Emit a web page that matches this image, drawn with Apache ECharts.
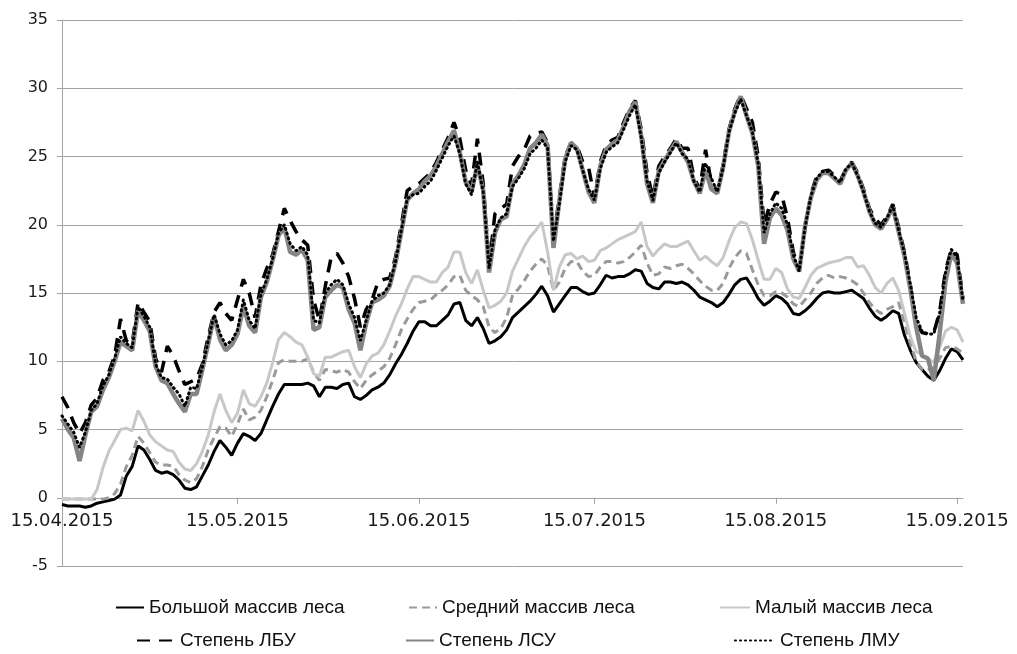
<!DOCTYPE html>
<html>
<head>
<meta charset="utf-8">
<script src="https://cdn.jsdelivr.net/npm/echarts@6/dist/echarts.min.js"></script>
<style>
  html, body { margin: 0; padding: 0; background: #fff; }
  #chart { width: 1017px; height: 654px; }
</style>
</head>
<body>
<div id="chart"></div>
<script>
// daily values, 15.04.2015 .. 16.09.2015
const startDate = new Date(2015, 3, 15);
const dayCount = 155;
const tickLabels = ["15.04.2015", "15.05.2015", "15.06.2015", "15.07.2015", "15.08.2015", "15.09.2015"];

const bigForest = [
  -0.5, -0.6, -0.6, -0.6, -0.7, -0.6, -0.4, -0.3, -0.2, -0.1,
  0.2, 1.6, 2.3, 3.8, 3.5, 2.8, 2.0, 1.8, 1.9, 1.7,
  1.3, 0.7, 0.6, 0.8, 1.6, 2.4, 3.4, 4.2, 3.7, 3.1,
  4.0, 4.7, 4.5, 4.2, 4.7, 5.7, 6.7, 7.6, 8.3, 8.3,
  8.3, 8.3, 8.4, 8.2, 7.4, 8.1, 8.1, 8.0, 8.3, 8.4,
  7.4, 7.2, 7.5, 7.9, 8.1, 8.4, 9.0, 9.8, 10.5, 11.3,
  12.2, 12.9, 12.9, 12.6, 12.6, 13.0, 13.4, 14.2, 14.3, 13.0,
  12.6, 13.2, 12.4, 11.3, 11.5, 11.8, 12.3, 13.2, 13.6, 14.0,
  14.4, 14.9, 15.5, 14.8, 13.6, 14.2, 14.8, 15.4, 15.4, 15.1,
  14.9, 15.0, 15.6, 16.3, 16.1, 16.2, 16.2, 16.4, 16.7, 16.6,
  15.7, 15.4, 15.3, 15.8, 15.8, 15.7, 15.8, 15.6, 15.2, 14.7,
  14.5, 14.3, 14.0, 14.3, 14.9, 15.6, 16.0, 16.1, 15.4, 14.6,
  14.1, 14.4, 14.8, 14.6, 14.2, 13.5, 13.4, 13.7, 14.1, 14.6,
  15.0, 15.1, 15.0, 15.0, 15.1, 15.2, 14.9, 14.6, 13.9, 13.3,
  13.0, 13.3, 13.7, 13.5, 11.9, 10.8, 9.9, 9.4, 8.9, 8.6,
  9.3, 10.2, 10.9, 10.7, 10.1
];

const midForest = [
  -0.1, -0.1, -0.1, -0.1, -0.1, -0.1, -0.1, -0.1, 0.0, 0.3,
  1.0, 2.3, 3.1, 4.5, 4.0, 3.3, 2.6, 2.4, 2.4, 2.3,
  1.7, 1.3, 1.1, 1.4, 2.3, 3.5, 4.4, 5.2, 5.1, 4.5,
  5.4, 6.5, 5.7, 5.9, 6.4, 7.4, 8.6, 9.9, 10.1, 10.0,
  10.0, 10.0, 10.2, 9.2, 8.6, 9.4, 9.3, 9.2, 9.4, 9.2,
  8.5, 8.0, 8.6, 9.0, 9.3, 9.6, 10.2, 11.2, 12.3, 13.1,
  13.8, 14.3, 14.4, 14.5, 14.9, 15.2, 15.6, 16.2, 16.3, 15.2,
  14.8, 14.5, 14.0, 12.5, 12.1, 12.4, 13.2, 14.8, 15.3, 15.9,
  16.6, 17.1, 17.5, 17.0, 15.2, 15.8, 16.8, 17.3, 17.3, 16.6,
  16.2, 16.3, 16.9, 17.3, 17.3, 17.2, 17.3, 17.6, 18.0, 18.5,
  17.2, 16.3, 16.4, 16.9, 16.8, 17.0, 17.1, 16.8, 16.4, 15.9,
  15.5, 15.2, 15.2, 15.7, 16.8, 17.6, 18.1, 17.9, 16.7, 15.6,
  14.8, 14.8, 15.1, 15.0, 14.7, 14.2, 14.0, 14.5, 15.0, 15.7,
  16.1, 16.3, 16.1, 16.2, 16.1, 15.9, 15.6, 15.0, 14.3, 13.8,
  13.5, 13.8, 14.0, 14.3, 12.8, 11.3, 10.0, 9.4, 9.4, 9.5,
  10.2, 11.0, 11.1, 10.9, 10.6
];

const smallForest = [
  -0.1, -0.1, -0.1, -0.1, -0.1, -0.1, 0.6, 2.2, 3.4, 4.2,
  5.0, 5.1, 4.9, 6.4, 5.6, 4.6, 4.1, 3.8, 3.5, 3.4,
  2.6, 2.1, 2.0, 2.5, 3.4, 4.6, 6.3, 7.6, 6.4, 5.5,
  6.2, 7.9, 6.9, 6.7, 7.4, 8.4, 9.9, 11.6, 12.1, 11.8,
  11.4, 11.2, 10.3, 9.1, 8.9, 10.3, 10.3, 10.5, 10.7, 10.8,
  9.6, 8.8, 9.8, 10.4, 10.6, 11.2, 12.2, 13.3, 14.2, 15.3,
  16.2, 16.2, 16.0, 15.8, 15.8, 16.5, 16.9, 18.0, 18.0, 16.5,
  15.7, 16.7, 15.2, 13.9, 14.1, 14.4, 15.0, 16.6, 17.5, 18.4,
  19.1, 19.6, 20.2, 18.0, 15.2, 16.9, 17.8, 17.9, 17.5, 17.7,
  17.3, 17.4, 18.1, 18.3, 18.6, 18.9, 19.1, 19.3, 19.5, 20.2,
  18.4, 17.7, 18.2, 18.6, 18.4, 18.4, 18.6, 18.8, 18.1, 17.4,
  17.7, 17.3, 17.0, 17.6, 18.8, 19.8, 20.2, 20.1, 18.9, 17.4,
  16.0, 16.0, 16.8, 16.5, 15.3, 14.7, 14.6, 15.4, 16.3, 16.8,
  17.0, 17.2, 17.3, 17.4, 17.6, 17.6, 16.9, 17.0, 16.3, 15.4,
  15.0, 15.7, 16.1, 15.2, 13.5, 11.8, 10.7, 10.5, 10.2, 9.9,
  11.0, 12.2, 12.5, 12.3, 11.4
];

const lbu = [
  7.4, 6.6, 5.5, 4.7, 5.5, 6.8, 7.3, 8.6, 9.2, 10.4,
  13.1, 11.5, 11.3, 14.3, 13.6, 12.9, 10.2, 9.2, 11.1, 10.4,
  9.3, 8.3, 8.5, 8.7, 9.8, 11.8, 13.6, 14.3, 13.5, 13.0,
  14.5, 16.0, 15.0, 13.2, 15.6, 16.8, 17.8, 19.5, 21.2, 20.3,
  19.5, 18.9, 18.5, 14.5, 13.0, 15.5, 17.6, 17.9, 17.2, 16.2,
  14.6, 12.5, 13.8, 14.5, 15.8, 16.0, 16.1, 17.6, 20.0, 22.5,
  22.8, 23.0, 23.4, 23.8, 24.6, 25.5, 26.4, 27.5, 26.3, 24.0,
  22.9, 26.3, 23.0, 17.0, 20.8, 21.2, 21.5, 24.3, 25.0, 25.5,
  26.5, 26.7, 26.8, 26.0, 19.0, 22.0, 25.0, 26.0, 25.8, 24.6,
  24.2, 22.0, 24.6, 25.8, 26.2, 26.4, 27.5, 28.5, 29.1, 27.0,
  23.8, 22.0, 24.3, 25.0, 25.6, 26.3, 25.6, 25.6, 23.5, 22.6,
  25.5, 23.0, 22.4, 24.4, 27.0, 28.5, 29.5, 28.5, 27.5, 25.0,
  20.0, 21.5, 22.4, 22.2, 20.5, 18.0, 16.6, 19.8, 22.2, 23.6,
  23.9, 24.0, 23.6, 23.2, 24.1, 24.6, 23.8, 22.6, 21.2, 20.4,
  20.0, 20.6, 21.5, 19.8, 18.0, 15.6, 12.8, 12.1, 12.0, 12.1,
  13.6, 16.6, 18.2, 17.8, 14.6
];

const lsu = [
  5.8, 5.0, 4.4, 2.7, 4.6, 6.3, 6.7, 7.9, 8.8, 10.0,
  11.4, 11.1, 10.8, 13.7, 13.0, 12.2, 9.6, 8.6, 8.4, 7.6,
  6.9, 6.3, 7.6, 7.6, 9.4, 11.3, 13.3, 11.6, 10.8, 11.2,
  12.0, 14.0, 12.6, 12.1, 14.7, 15.8, 17.4, 19.2, 19.8, 18.0,
  17.8, 18.2, 17.4, 12.3, 12.5, 14.7, 15.2, 15.6, 15.4, 13.8,
  12.8, 10.8, 12.8, 14.3, 14.5, 14.8, 15.5, 17.2, 19.5, 21.8,
  22.3, 22.6, 23.2, 23.6, 24.3, 25.2, 26.1, 26.9, 25.3, 23.1,
  22.4, 24.4, 22.5, 16.5, 19.4, 20.4, 20.6, 23.0, 23.6, 24.4,
  25.6, 26.0, 26.6, 25.8, 18.3, 21.7, 24.8, 26.0, 25.6, 24.0,
  22.4, 21.6, 24.3, 25.5, 25.9, 26.2, 27.2, 28.3, 29.0, 26.5,
  23.0, 21.6, 23.9, 24.7, 25.4, 26.1, 25.3, 24.6, 23.2, 22.3,
  24.0, 22.6, 22.3, 24.2, 26.8, 28.3, 29.4, 28.0, 26.7, 24.3,
  18.6, 20.5, 21.2, 20.7, 19.6, 17.5, 16.6, 19.9, 22.0, 23.3,
  23.8, 23.8, 23.4, 23.0, 24.0, 24.5, 23.6, 22.4, 21.0, 20.0,
  19.7, 20.4, 21.3, 19.5, 17.7, 15.3, 12.5, 10.4, 10.2, 8.6,
  12.0, 15.8, 17.9, 17.2, 14.2
];

const lmu = [
  6.0, 5.4, 4.8, 3.7, 4.8, 6.4, 6.9, 8.2, 9.0, 10.2,
  11.8, 11.3, 11.0, 14.0, 13.3, 12.5, 9.8, 8.8, 8.7, 8.1,
  7.6, 6.7, 8.1, 8.0, 9.6, 11.5, 13.4, 12.0, 11.2, 11.5,
  12.3, 14.5, 13.0, 12.4, 14.9, 16.0, 17.5, 19.4, 20.0, 18.6,
  18.1, 18.4, 17.8, 13.0, 12.8, 15.0, 15.6, 16.0, 15.6, 14.2,
  13.2, 11.5, 13.0, 14.4, 14.8, 15.0, 15.6, 17.3, 19.6, 21.9,
  22.2, 22.3, 22.8, 23.2, 24.0, 24.9, 25.8, 26.5, 25.2, 23.0,
  22.2, 24.6, 22.4, 16.8, 19.6, 20.5, 20.8, 22.8, 23.4, 24.1,
  25.2, 25.6, 26.2, 25.6, 18.8, 21.5, 24.6, 25.8, 25.5, 24.0,
  22.6, 21.8, 24.1, 25.3, 25.7, 26.0, 27.0, 28.0, 28.8, 26.4,
  23.2, 21.8, 23.8, 24.6, 25.3, 26.0, 25.2, 24.8, 23.2, 22.4,
  24.5, 23.4, 22.4, 24.2, 26.8, 28.2, 29.2, 28.0, 26.8, 24.5,
  19.4, 20.8, 21.6, 21.2, 20.0, 17.8, 16.6, 19.8, 22.1, 23.4,
  23.9, 23.9, 23.5, 23.1, 24.1, 24.5, 23.6, 22.4, 21.0, 20.1,
  19.8, 20.5, 21.4, 19.6, 17.9, 15.6, 13.2, 12.2, 12.0, 12.0,
  13.5, 16.5, 18.2, 17.6, 14.4
];

function pad(n) { return n < 10 ? "0" + n : "" + n; }
const dates = [];
for (let i = 0; i < dayCount; i++) {
  const d = new Date(startDate.getTime());
  d.setDate(d.getDate() + i);
  dates.push(pad(d.getDate()) + "." + pad(d.getMonth() + 1) + "." + d.getFullYear());
}

const labelFont = "DejaVu Sans";
const legendFont = "'Liberation Sans', sans-serif";
const gridColor = "#a3a3a3";

function lineSeries(name, data, color, width, type, cap) {
  return {
    name: name,
    type: "line",
    data: data,
    symbol: "none",
    showSymbol: false,
    animation: false,
    lineStyle: { color: color, width: width, type: type, cap: cap || "butt" },
    itemStyle: { color: color },
  };
}

function legendAt(name, left, top, itemWidth) {
  return {
    data: [name],
    left: left,
    top: top,
    itemWidth: itemWidth,
    itemHeight: 14,
    itemStyle: { opacity: 0 },
    textStyle: { fontFamily: legendFont, fontSize: 19, color: "#111" },
  };
}

const chart = echarts.init(document.getElementById("chart"));
chart.setOption({
  animation: false,
  grid: { left: 62, right: 54, top: 20, bottom: 88 },
  legend: [
    legendAt("Большой массив леса", 110, 593, 28),
    legendAt("Средний массив леса", 403, 593, 28),
    legendAt("Малый массив леса", 714, 593, 30),
    legendAt("Степень ЛБУ", 131, 626, 38),
    legendAt("Степень ЛСУ", 400, 626, 28),
    legendAt("Степень ЛМУ", 729, 626, 40),
  ],
  xAxis: {
    type: "category",
    data: dates,
    boundaryGap: false,
    axisLine: { onZero: true, lineStyle: { color: gridColor, width: 1 } },
    axisTick: {
      show: true,
      length: 6,
      interval: (i, v) => tickLabels.includes(v),
      lineStyle: { color: gridColor },
    },
    axisLabel: {
      interval: (i, v) => tickLabels.includes(v),
      fontFamily: labelFont,
      fontSize: 18,
      color: "#1a1a1a",
      margin: -54,
      showMaxLabel: true,
    },
    splitLine: { show: false },
  },
  yAxis: {
    type: "value",
    min: -5,
    max: 35,
    interval: 5,
    axisLine: { show: true, lineStyle: { color: gridColor, width: 1 } },
    axisTick: { show: true, length: 5, lineStyle: { color: gridColor } },
    axisLabel: { fontFamily: labelFont, fontSize: 16, color: "#1a1a1a", margin: 14 },
    splitLine: { show: true, lineStyle: { color: gridColor, width: 1 } },
  },
  series: [
    lineSeries("Большой массив леса", bigForest, "#000000", 3),
    lineSeries("Средний массив леса", midForest, "#9a9a9a", 3, [8, 5]),
    lineSeries("Малый массив леса", smallForest, "#c8c8c8", 3),
    lineSeries("Степень ЛБУ", lbu, "#000000", 3.5, [13, 9]),
    lineSeries("Степень ЛСУ", lsu, "#858585", 4.5),
    lineSeries("Степень ЛМУ", lmu, "#000000", 3, [1, 4], "round"),
  ],
});
</script>
</body>
</html>
